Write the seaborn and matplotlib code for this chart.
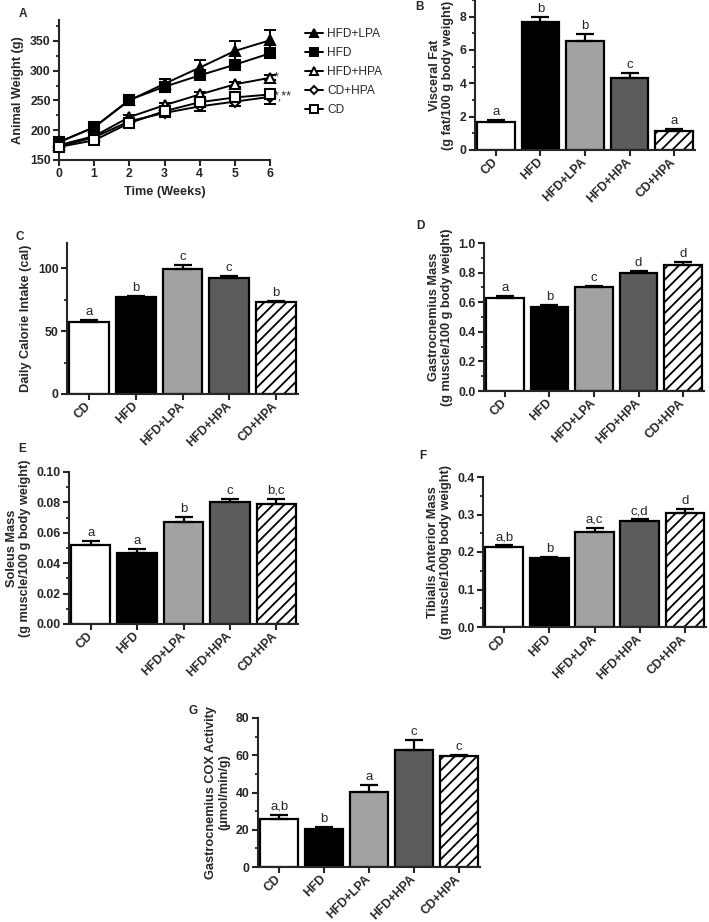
import numpy as np
import pandas as pd
import matplotlib
matplotlib.use("Agg")
import matplotlib.pyplot as plt
import seaborn as sns
from matplotlib.ticker import MultipleLocator
from matplotlib.lines import Line2D

sns.set_theme(style="ticks")
plt.rcParams['font.family'] = ['Liberation Sans', 'DejaVu Sans']
plt.rcParams['hatch.linewidth'] = 1.3
plt.rcParams['axes.linewidth'] = 1.5

# ---------------- data ----------------
weeks = [0, 1, 2, 3, 4, 5, 6]
w_hfd_lpa = [180, 205, 250, 278, 305, 333, 351]
e_hfd_lpa = [3, 4, 4, 8, 13, 17, 18]
w_hfd = [180, 205, 251, 273, 292, 310, 329]
e_hfd = [3, 4, 5, 7, 6, 6, 5]
w_hfd_hpa = [175, 190, 222, 242, 260, 277, 288]
e_hfd_hpa = [3, 4, 4, 4, 4, 4, 4]
w_cd_hpa = [173, 188, 215, 229, 240, 248, 256]
e_cd_hpa = [3, 3, 4, 6, 8, 7, 12]
w_cd = [172, 183, 212, 232, 247, 255, 260]
e_cd = [3, 3, 3, 4, 6, 5, 6]

groups = ["CD", "HFD", "HFD+LPA", "HFD+HPA", "CD+HPA"]

visceral = [1.7, 7.65, 6.55, 4.3, 1.15]
visceral_err = [0.1, 0.35, 0.4, 0.3, 0.1]
visceral_let = ["a", "b", "b", "c", "a"]

calorie = [57, 77, 99, 92, 73]
calorie_err = [2, 1, 3.5, 1.5, 1]
calorie_let = ["a", "b", "c", "c", "b"]

gastro = [0.63, 0.57, 0.70, 0.80, 0.85]
gastro_err = [0.012, 0.01, 0.01, 0.01, 0.02]
gastro_let = ["a", "b", "c", "d", "d"]

soleus = [0.052, 0.047, 0.067, 0.080, 0.079]
soleus_err = [0.0025, 0.0025, 0.0033, 0.002, 0.0033]
soleus_let = ["a", "a", "b", "c", "b,c"]

tibialis = [0.213, 0.183, 0.253, 0.283, 0.305]
tibialis_err = [0.005, 0.004, 0.012, 0.004, 0.01]
tibialis_let = ["a,b", "b", "a,c", "c,d", "d"]

cox = [26, 20.5, 40.5, 63, 59.5]
cox_err = [2, 1, 3.5, 5, 0.4]
cox_let = ["a,b", "b", "a", "c", "c"]

bar_colors = ["#ffffff", "#000000", "#a2a2a5", "#5c5c5c", "#ffffff"]

# ---------------- figure ----------------
W, H = 709, 922
fig = plt.figure(figsize=(W / 100, H / 100), dpi=100)


def px_axes(left, top, right, bottom):
    return fig.add_axes([left / W, 1 - bottom / H, (right - left) / W, (bottom - top) / H])


TICK_FS = 8.8
LAB_FS = 9.2


def style_axes(ax):
    sns.despine(ax=ax)
    ax.tick_params(axis='both', which='major', length=4, width=1.5, direction='out',
                   labelsize=TICK_FS, pad=2)
    ax.tick_params(axis='y', which='minor', length=2.5, width=1.3, direction='out')
    for lab in ax.get_xticklabels() + ax.get_yticklabels():
        lab.set_fontweight('bold')


def bar_panel(ax, vals, errs, letters, ylim, major, minor, ylabel):
    df = pd.DataFrame({"group": groups, "value": vals})
    sns.barplot(data=df, x="group", y="value", hue="group", palette=bar_colors,
                saturation=1, width=0.85, edgecolor="black", linewidth=1.6,
                errorbar=None, legend=False, ax=ax)
    ax.patches[4].set_hatch("///")
    ax.errorbar(range(5), vals, yerr=[[0] * 5, errs], fmt="none", ecolor="black",
                elinewidth=1.6, capsize=6.5, capthick=1.6, zorder=1)
    for i, (v, e, t) in enumerate(zip(vals, errs, letters)):
        ax.annotate(t, (i, v + e), xytext=(0, 1.5), textcoords="offset points",
                    ha="center", va="bottom", fontsize=9.5)
    ax.set_xlim(-0.47, 4.47)
    ax.set_ylim(*ylim)
    ax.yaxis.set_major_locator(MultipleLocator(major))
    ax.yaxis.set_minor_locator(MultipleLocator(minor))
    ax.set_xlabel("")
    ax.set_ylabel(ylabel, fontsize=LAB_FS, fontweight="bold", linespacing=1.1)
    style_axes(ax)
    ax.set_xticks(range(5))
    ax.set_xticklabels(groups, rotation=45, ha="right", va="center",
                       rotation_mode="anchor", fontweight="bold", fontsize=TICK_FS)
    ax.tick_params(axis='x', pad=3.5)


# ---------------- Panel A ----------------
axA = px_axes(59, 20, 270, 160)
series = [
    ("HFD+LPA", w_hfd_lpa, e_hfd_lpa, "^", "black"),
    ("HFD", w_hfd, e_hfd, "s", "black"),
    ("HFD+HPA", w_hfd_hpa, e_hfd_hpa, "^", "white"),
    ("CD+HPA", w_cd_hpa, e_cd_hpa, "D", "white"),
    ("CD", w_cd, e_cd, "s", "white"),
]
handles = []
for name, vals, errs, mk, fc in series:
    ax_df = pd.DataFrame({"week": weeks, "weight": vals})
    axA.errorbar(weeks, vals, yerr=errs, fmt="none", ecolor="black", elinewidth=1.4,
                 capsize=4, capthick=1.4, zorder=2, clip_on=False)
    sns.lineplot(data=ax_df, x="week", y="weight", ax=axA, color="black", linewidth=1.4,
                 marker=mk, markersize=6.5 if mk != "D" else 5.5, markerfacecolor=fc,
                 markeredgecolor="black", markeredgewidth=1.5, zorder=3, clip_on=False)
    handles.append(Line2D([0], [0], color="black", linewidth=1.4, marker=mk,
                          markersize=5.5 if mk != "D" else 4.5, markerfacecolor=fc,
                          markeredgecolor="black", markeredgewidth=1.4, label=name))
axA.set_xlim(0, 6)
axA.set_ylim(150, 385)
axA.yaxis.set_major_locator(MultipleLocator(50))
axA.yaxis.set_minor_locator(MultipleLocator(25))
axA.set_xticks(weeks)
axA.set_xlabel("Time (Weeks)", fontsize=LAB_FS, fontweight="bold", labelpad=4)
axA.set_ylabel("Animal Weight (g)", fontsize=LAB_FS, fontweight="bold")
style_axes(axA)
axA.text(6.12, 288, "*", fontsize=9, va="center", ha="left")
axA.text(6.12, 257, "*,**", fontsize=9, va="center", ha="left")
fig.legend(handles=handles, loc="upper left", bbox_to_anchor=(300 / W, 1 - 23 / H),
           frameon=False, fontsize=8.6, handlelength=1.5, handletextpad=0.4,
           labelspacing=0.6, borderaxespad=0)

# ---------------- Panel B ----------------
axB = px_axes(475, 0, 695, 150)
bar_panel(axB, visceral, visceral_err, visceral_let, (0, 9), 2, 1,
          "Visceral Fat\n(g fat/100 g body weight)")

# ---------------- Panel C ----------------
axC = px_axes(67, 243, 298, 394)
bar_panel(axC, calorie, calorie_err, calorie_let, (0, 120), 50, 25,
          "Daily Calorie Intake (cal)")

# ---------------- Panel D ----------------
axD = px_axes(484, 243, 704, 391)
bar_panel(axD, gastro, gastro_err, gastro_let, (0, 1.0), 0.2, 0.1,
          "Gastrocnemius Mass\n(g muscle/100 g body weight)")

# ---------------- Panel E ----------------
axE = px_axes(69, 472, 298, 624)
bar_panel(axE, soleus, soleus_err, soleus_let, (0, 0.10), 0.02, 0.01,
          "Soleus Mass\n(g muscle/100 g body weight)")

# ---------------- Panel F ----------------
axF = px_axes(483, 477, 706, 627)
bar_panel(axF, tibialis, tibialis_err, tibialis_let, (0, 0.4), 0.1, 0.05,
          "Tibialis Anterior Mass\n(g muscle/100g body weight)")

# ---------------- Panel G ----------------
axG = px_axes(258, 718, 480, 867)
bar_panel(axG, cox, cox_err, cox_let, (0, 80), 20, 10,
          "Gastrocnemius COX Activity\n(\u00b5mol/min/g)")

# panel letters
for lbl, x, y in [("A", 23, 14), ("B", 420, 7), ("C", 20, 237), ("D", 420, 226),
                  ("E", 22, 449), ("F", 423, 456), ("G", 193, 711)]:
    fig.text(x / W, 1 - y / H, lbl, fontsize=8.5, fontweight="bold", ha="center", va="center")

fig.savefig("out.png", dpi=100)
